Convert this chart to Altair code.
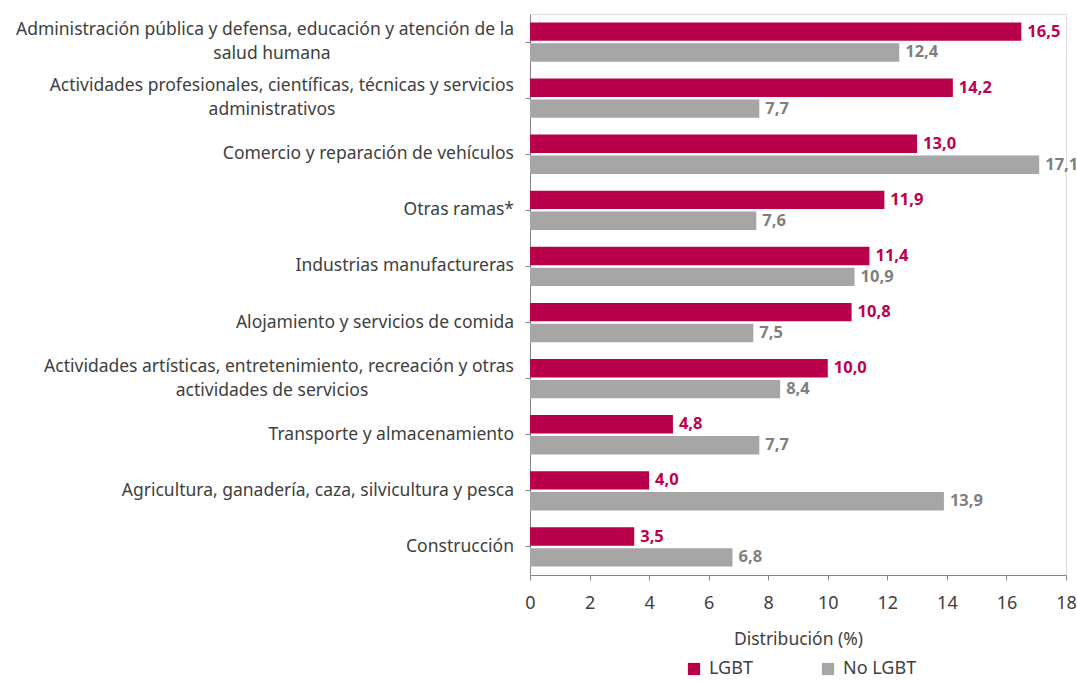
import altair as alt
import pandas as pd

categories = [
    "Administración pública y defensa, educación y atención de la\nsalud humana",
    "Actividades profesionales, científicas, técnicas y servicios\nadministrativos",
    "Comercio y reparación de vehículos",
    "Otras ramas*",
    "Industrias manufactureras",
    "Alojamiento y servicios de comida",
    "Actividades artísticas, entretenimiento, recreación y otras\nactividades de servicios",
    "Transporte y almacenamiento",
    "Agricultura, ganadería, caza, silvicultura y pesca",
    "Construcción",
]
lgbt = [16.5, 14.2, 13.0, 11.9, 11.4, 10.8, 10.0, 4.8, 4.0, 3.5]
no_lgbt = [12.4, 7.7, 17.1, 7.6, 10.9, 7.5, 8.4, 7.7, 13.9, 6.8]
series = ["LGBT", "No LGBT"]
x_ticks = [0, 2, 4, 6, 8, 10, 12, 14, 16, 18]

rows = []
for c, a, b in zip(categories, lgbt, no_lgbt):
    rows.append({"cat": c, "grupo": series[0], "valor": a})
    rows.append({"cat": c, "grupo": series[1], "valor": b})
df = pd.DataFrame(rows)
cat_df = pd.DataFrame({"cat": categories})

RED = "#B9004A"
GRAY = "#A6A6A6"
FONT = "Noto Sans"
TXT = "#404040"
FS = 17.5

y_scale = alt.Scale(paddingInner=0.3, paddingOuter=0.15)
yoff_scale = alt.Scale(paddingInner=0.12)
x_scale = alt.Scale(domain=[0, 18], nice=False)

x_enc = alt.X("valor:Q", scale=x_scale,
              axis=alt.Axis(values=x_ticks, title="Distribución (%)", grid=False,
                            labelFont=FONT, labelFontSize=18, labelColor=TXT,
                            labelFlush=False,
                            titleFont=FONT, titleFontSize=FS, titleColor=TXT,
                            titleFontWeight="normal", titlePadding=18,
                            domainColor="#868686", tickColor="#868686",
                            tickSize=5, labelPadding=14))
y_enc = alt.Y("cat:N", sort=categories, scale=y_scale,
              axis=alt.Axis(labels=False, title=None, domainColor="#868686",
                            tickColor="#868686", tickSize=5, ticks=True))
yoff_enc = alt.YOffset("grupo:N", sort=series, scale=yoff_scale)

bars = alt.Chart(df).mark_bar().encode(
    x=x_enc,
    y=y_enc,
    yOffset=yoff_enc,
    color=alt.Color("grupo:N", sort=series,
                    scale=alt.Scale(domain=series, range=[RED, GRAY]),
                    legend=alt.Legend(title=None, orient="none", direction="horizontal",
                                      legendX=155, legendY=646,
                                      symbolType="square", symbolSize=150,
                                      symbolStrokeWidth=0,
                                      labelFont=FONT, labelFontSize=18, labelColor=TXT,
                                      columnPadding=66, labelOffset=6)),
)

labels = alt.Chart(df).transform_calculate(
    lab="replace(format(datum.valor, '.1f'), '.', ',')"
).mark_text(align="left", baseline="middle", dx=6, font=FONT, fontSize=16.5,
            fontWeight="bold").encode(
    x="valor:Q",
    y=alt.Y("cat:N", sort=categories),
    yOffset=alt.YOffset("grupo:N", sort=series),
    text="lab:N",
    color=alt.Color("grupo:N", sort=series,
                    scale=alt.Scale(domain=series, range=["#BF004C", "#7F7F7F"]),
                    legend=None),
)

cat_base = alt.Chart(cat_df).transform_calculate(
    l1="split(datum.cat, '\\n')[0]",
    l2="length(split(datum.cat, '\\n')) > 1 ? split(datum.cat, '\\n')[1] : ''",
)

cat_single = cat_base.transform_filter("datum.l2 == ''").mark_text(
    align="right", baseline="middle", font=FONT, fontSize=FS, color=TXT
).encode(x=alt.value(-16), y=alt.Y("cat:N", sort=categories), text="l1:N")

cat_line1 = cat_base.transform_filter("datum.l2 != ''").mark_text(
    align="right", baseline="middle", font=FONT, fontSize=FS, color=TXT, dy=-12
).encode(x=alt.value(-16), y=alt.Y("cat:N", sort=categories), text="l1:N")

cat_line2 = cat_base.transform_filter("datum.l2 != ''").mark_text(
    align="center", baseline="middle", font=FONT, fontSize=FS, color=TXT, dy=12
).encode(x=alt.value(-258), y=alt.Y("cat:N", sort=categories), text="l2:N")

chart = alt.layer(bars, labels, cat_single, cat_line1, cat_line2).resolve_scale(
    color="independent"
).properties(
    width=536, height=561,
    autosize=alt.AutoSizeParams(type="none"),
    padding={"left": 530, "top": 14, "right": 11, "bottom": 106},
).configure_view(stroke="transparent", strokeWidth=0).configure(background="white")

chart.save("out.html", embed_options={"renderer": "svg", "actions": False})
